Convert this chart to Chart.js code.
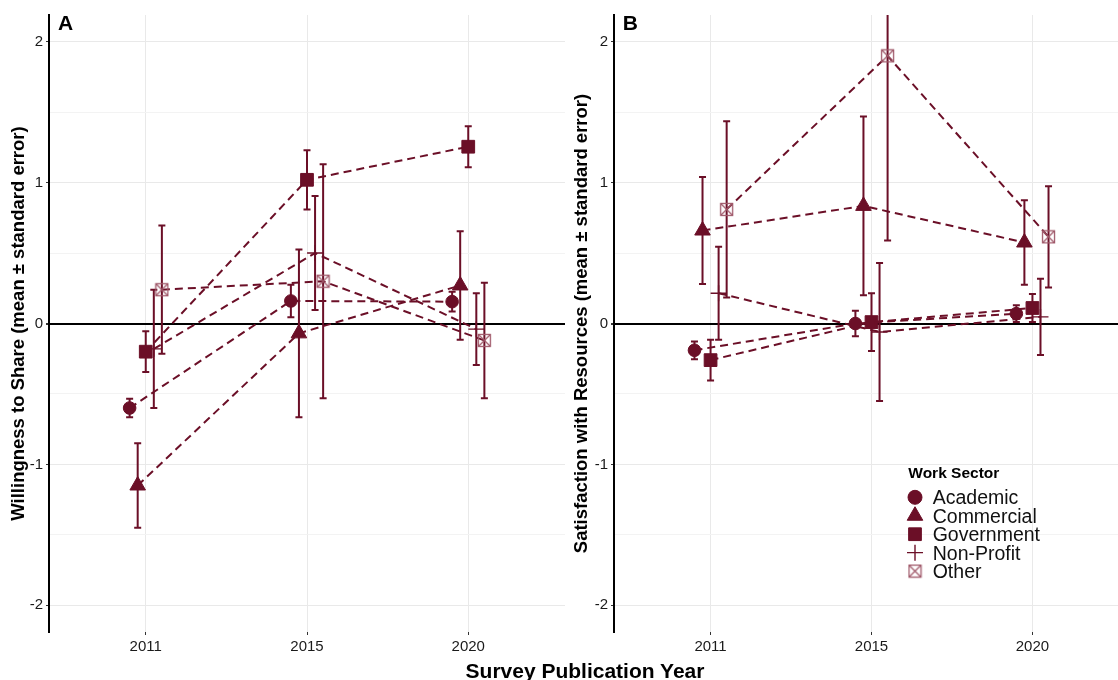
<!DOCTYPE html>
<html>
<head>
<meta charset="utf-8">
<script src="https://cdn.jsdelivr.net/npm/chart.js@4.4.0/dist/chart.umd.min.js"></script>
<style>
  html, body { margin: 0; padding: 0; background: #fff; overflow: hidden; }
  body { width: 1118px; height: 680px; position: relative; }
  #panelA { position: absolute; left: 0; top: 0; }
  #panelB { position: absolute; left: 565px; top: 0; }
  #xTitle {
    position: absolute; left: 0; width: 1170px; top: 659px;
    text-align: center; line-height: 21px;
    font: bold 21px "Liberation Sans", Arial, sans-serif; color: #000;
  }
</style>
</head>
<body>
<canvas id="panelA" width="575" height="680"></canvas>
<canvas id="panelB" width="575" height="680"></canvas>
<div id="xTitle">Survey Publication Year</div>

<script>
// categories
const years = ["2011", "2015", "2020"];
const sectors = ["Academic", "Commercial", "Government", "Non-Profit", "Other"];
const yTicks = [-2, -1.5, -1, -0.5, 0, 0.5, 1, 1.5, 2];

// Panel A - willingness to share (mean, standard error)
const shareAcademic = [-0.60, 0.16, 0.155];
const shareCommercial = [-1.15, -0.07, 0.27];
const shareGovernment = [-0.20, 1.02, 1.255];
const shareNonProfit = [-0.18, 0.50, -0.04];
const shareOther = [0.24, 0.30, -0.12];

const shareAcademicSe = [0.065, 0.115, 0.07];
const shareCommercialSe = [0.30, 0.595, 0.385];
const shareGovernmentSe = [0.145, 0.21, 0.145];
const shareNonProfitSe = [0.42, 0.405, 0.255];
const shareOtherSe = [0.455, 0.83, 0.41];

// Panel B - satisfaction with resources (mean, standard error)
const satAcademic = [-0.19, 0.0, 0.07];
const satCommercial = [0.66, 0.835, 0.575];
const satGovernment = [-0.26, 0.01, 0.11];
const satNonProfit = [0.215, -0.06, 0.047];
const satOther = [0.81, 1.90, 0.615];

const satAcademicSe = [0.063, 0.09, 0.06];
const satCommercialSe = [0.38, 0.635, 0.30];
const satGovernmentSe = [0.145, 0.205, 0.10];
const satNonProfitSe = [0.33, 0.49, 0.27];
const satOtherSe = [0.625, 1.31, 0.36];

const MAROON = "#6b0f27";
const OTHER_COL = "#a05a6b";
const FONT = "'Liberation Sans', Arial, sans-serif";
const dodge = [-0.1, -0.05, 0, 0.05, 0.1];

Chart.defaults.font.family = FONT;

// square with a cross, like ggplot shape 7
function otherMarker() {
  const c = document.createElement("canvas");
  c.width = 15;
  c.height = 15;
  const g = c.getContext("2d");
  g.strokeStyle = OTHER_COL;
  g.lineWidth = 1.3;
  g.strokeRect(1.5, 1.5, 12, 12);
  g.beginPath();
  g.moveTo(1.5, 1.5); g.lineTo(13.5, 13.5);
  g.moveTo(13.5, 1.5); g.lineTo(1.5, 13.5);
  g.stroke();
  return c;
}
const otherImg = otherMarker();

const markerStyle = [
  { pointStyle: "circle", pointRadius: 6.3, pointBorderWidth: 1 },
  { pointStyle: "triangle", pointRadius: 9, pointBorderWidth: 1 },
  { pointStyle: "rect", pointRadius: 9, pointBorderWidth: 1 },
  { pointStyle: "cross", pointRadius: 8, pointBorderWidth: 1.4 },
  { pointStyle: otherImg, pointRadius: 7, pointBorderWidth: 1 },
];

function buildDatasets(means, errs) {
  return sectors.map((name, k) => ({
    label: name,
    data: means[k].map((v, i) => ({ x: i + 1 + dodge[k], y: v })),
    errors: errs[k],
    showLine: true,
    borderColor: MAROON,
    borderWidth: 2,
    borderDash: [8, 5],
    pointBackgroundColor: MAROON,
    pointBorderColor: MAROON,
    ...markerStyle[k],
  }));
}

// error bars drawn under the points
const errorBars = {
  id: "errorBars",
  beforeDatasetsDraw(chart) {
    const { ctx, chartArea: a } = chart;
    const x = chart.scales.x;
    const y = chart.scales.y;
    ctx.save();
    ctx.beginPath();
    ctx.rect(a.left, a.top, a.right - a.left, a.bottom - a.top);
    ctx.clip();
    ctx.strokeStyle = MAROON;
    ctx.lineWidth = 2;
    chart.data.datasets.forEach((ds) => {
      ds.data.forEach((p, i) => {
        const px = x.getPixelForValue(p.x);
        const lo = y.getPixelForValue(p.y - ds.errors[i]);
        const hi = y.getPixelForValue(p.y + ds.errors[i]);
        ctx.beginPath();
        ctx.moveTo(px, lo); ctx.lineTo(px, hi);
        ctx.moveTo(px - 3.5, lo); ctx.lineTo(px + 3.5, lo);
        ctx.moveTo(px - 3.5, hi); ctx.lineTo(px + 3.5, hi);
        ctx.stroke();
      });
    });
    ctx.restore();
  },
};

// panel letter + optional legend
const decorations = {
  id: "decorations",
  afterDraw(chart, args, opts) {
    const ctx = chart.ctx;
    ctx.save();
    ctx.fillStyle = "#000";
    ctx.textBaseline = "alphabetic";
    ctx.font = "bold 21px " + FONT;
    ctx.fillText(opts.letter, opts.letterX, 29.5);

    if (opts.legend) {
      const lx = 343.3;
      ctx.font = "bold 15.5px " + FONT;
      ctx.fillText("Work Sector", lx, 478.3);
      ctx.font = "19.5px " + FONT;
      sectors.forEach((name, k) => {
        const cy = 497.3 + 18.45 * k;
        const st = markerStyle[k];
        ctx.fillStyle = MAROON;
        ctx.strokeStyle = MAROON;
        ctx.lineWidth = st.pointBorderWidth;
        Chart.helpers.drawPoint(ctx, {
          pointStyle: st.pointStyle,
          radius: k === 0 ? 7 : st.pointRadius,
          rotation: 0,
          borderWidth: st.pointBorderWidth,
        }, 350, cy);
        ctx.fillStyle = "#111";
        ctx.fillText(name, 367.7, cy + 7);
      });
    }
    ctx.restore();
  },
};

function gridColor(c) {
  const v = c.tick.value;
  if (v === 0) return "#000";
  return Number.isInteger(v) ? "#e9e9e9" : "#f3f3f3";
}

function makePanel(canvasId, datasets, title, titlePad, padRight, deco) {
  return new Chart(document.getElementById(canvasId), {
    type: "scatter",
    data: { datasets },
    options: {
      responsive: false,
      animation: false,
      events: [],
      layout: { padding: { left: 0, right: padRight, top: 15, bottom: 0 } },
      plugins: {
        legend: { display: false },
        tooltip: { enabled: false },
        decorations: deco,
      },
      scales: {
        x: {
          type: "linear",
          min: 0.4,
          max: 3.6,
          afterBuildTicks: (s) => { s.ticks = [1, 2, 3].map((v) => ({ value: v })); },
          afterFit: (s) => { s.height = 48; },
          ticks: {
            autoSkip: false,
            maxRotation: 0,
            padding: 3,
            color: "#1a1a1a",
            font: { size: 15 },
            callback: (v) => years[Math.round(v) - 1],
          },
          grid: { color: "#e9e9e9", lineWidth: 1, tickColor: "#333", tickLength: 3 },
          border: { display: false },
        },
        y: {
          min: -2.19,
          max: 2.19,
          afterBuildTicks: (s) => { s.ticks = yTicks.map((v) => ({ value: v })); },
          afterFit: (s) => { s.width = 49; },
          title: {
            display: true,
            text: title,
            color: "#000",
            font: { size: 18.5, weight: "bold" },
            padding: { top: titlePad, bottom: 0 },
          },
          ticks: {
            autoSkip: false,
            padding: 3,
            color: "#1a1a1a",
            font: { size: 15 },
            callback: (v) => (Number.isInteger(v) ? String(v) : ""),
          },
          grid: {
            color: gridColor,
            lineWidth: (c) => (c.tick.value === 0 ? 2 : 1),
            tickColor: (c) => (Number.isInteger(c.tick.value) ? "#333" : "rgba(0,0,0,0)"),
            tickLength: 3,
          },
          border: { display: true, color: "#000", width: 2 },
        },
      },
    },
    plugins: [errorBars, decorations],
  });
}

makePanel(
  "panelA",
  buildDatasets(
    [shareAcademic, shareCommercial, shareGovernment, shareNonProfit, shareOther],
    [shareAcademicSe, shareCommercialSe, shareGovernmentSe, shareNonProfitSe, shareOtherSe]
  ),
  "Willingness to Share (mean ± standard error)",
  7.5,
  10,
  { letter: "A", letterX: 58, legend: false }
);

makePanel(
  "panelB",
  buildDatasets(
    [satAcademic, satCommercial, satGovernment, satNonProfit, satOther],
    [satAcademicSe, satCommercialSe, satGovernmentSe, satNonProfitSe, satOtherSe]
  ),
  "Satisfaction with Resources (mean ± standard error)",
  6,
  11,
  { letter: "B", letterX: 57.7, legend: true }
);
</script>
</body>
</html>
